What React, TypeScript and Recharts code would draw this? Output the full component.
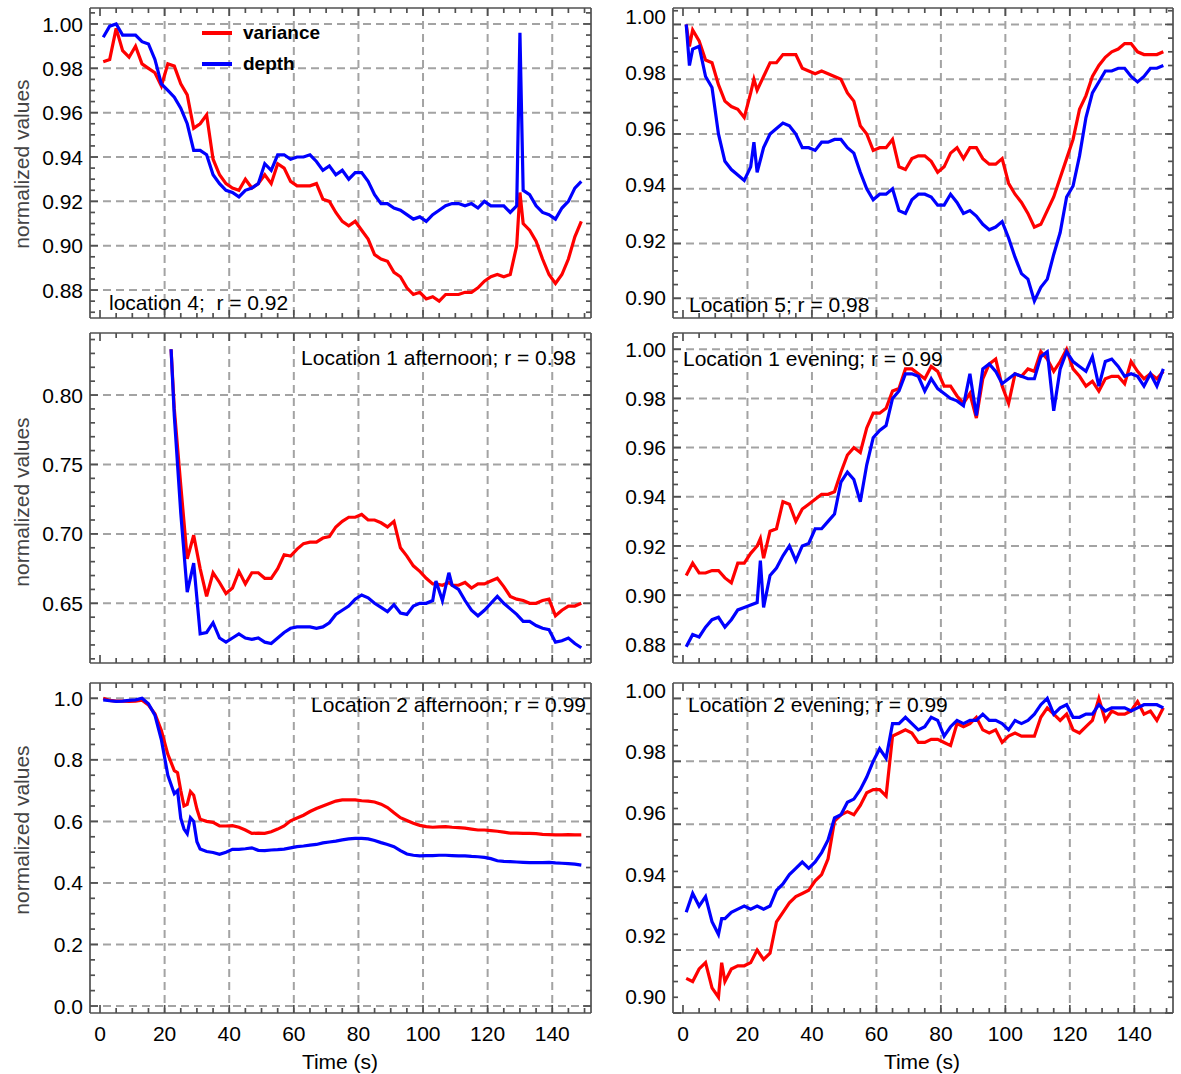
import React from 'react';
import { LineChart, Line, XAxis, YAxis, CartesianGrid, Legend } from 'recharts';

const FONT = '"Liberation Sans", Arial, Helvetica, sans-serif';
const RED = '#ff0000';
const BLUE = '#0000ff';
const FRAME = '#505050';
const GRID = '#a3a3a3';
const SERIES_ORDER = ['variance', 'depth'];

// shared time axis (seconds)
const X_DOMAIN: [number, number] = [-3.1, 152];
const X_LABELS = [0, 20, 40, 60, 80, 100, 120, 140];
const X_MINOR = [0, 5, 10, 15, 20, 25, 30, 35, 40, 45, 50, 55, 60, 65, 70, 75, 80, 85, 90, 95, 100, 105, 110, 115, 120, 125, 130, 135, 140, 145, 150];
const X_GRID = [20, 40, 60, 80, 100, 120, 140];

// ---- location 4 ----
const LOC4_T = [1, 3, 5, 7, 9, 11, 13, 15, 17, 19, 21, 23, 25, 27, 29, 31, 33, 35, 37, 39, 41, 43, 45, 47, 49, 51, 53, 55, 57, 59, 61, 63, 65, 67, 69, 71, 73, 75, 77, 79, 81, 83, 85, 87, 89, 91, 93, 95, 97, 99, 101, 103, 105, 107, 109, 111, 113, 115, 117, 119, 121, 123, 125, 127, 129, 130, 131, 133, 135, 137, 139, 141, 143, 145, 147, 149];
const LOC4_VAR = [0.983, 0.984, 0.998, 0.988, 0.985, 0.990, 0.982, 0.980, 0.978, 0.972,
  0.982, 0.981, 0.973, 0.968, 0.953, 0.955, 0.959, 0.939, 0.932, 0.928,
  0.926, 0.925, 0.930, 0.926, 0.928, 0.932, 0.928, 0.937, 0.935, 0.929,
  0.927, 0.927, 0.927, 0.928, 0.921, 0.920, 0.915, 0.911, 0.909, 0.911,
  0.907, 0.903, 0.896, 0.894, 0.893, 0.888, 0.886, 0.881, 0.878, 0.879,
  0.876, 0.877, 0.875, 0.878, 0.878, 0.878, 0.879, 0.879, 0.881, 0.884,
  0.886, 0.887, 0.886, 0.887, 0.900, 0.924, 0.910, 0.907, 0.902, 0.894,
  0.887, 0.883, 0.887, 0.894, 0.904, 0.911];
const LOC4_DEPTH = [0.994, 0.999, 1.000, 0.995, 0.995, 0.995, 0.992, 0.991, 0.984, 0.973,
  0.970, 0.967, 0.962, 0.955, 0.943, 0.943, 0.941, 0.932, 0.928, 0.925,
  0.924, 0.922, 0.925, 0.926, 0.928, 0.937, 0.934, 0.941, 0.941, 0.939,
  0.940, 0.940, 0.941, 0.938, 0.934, 0.936, 0.932, 0.934, 0.930, 0.933,
  0.933, 0.929, 0.923, 0.919, 0.919, 0.917, 0.916, 0.914, 0.912, 0.913,
  0.911, 0.914, 0.916, 0.918, 0.919, 0.919, 0.918, 0.919, 0.917, 0.920,
  0.918, 0.918, 0.918, 0.915, 0.918, 0.996, 0.925, 0.923, 0.918, 0.915,
  0.914, 0.912, 0.917, 0.920, 0.926, 0.929];

// ---- location 5 ----
const LOC5_T = [1, 2, 3, 5, 7, 9, 11, 13, 15, 17, 19, 21, 22, 23, 25, 27, 29, 31, 33, 35, 37, 39, 41, 43, 45, 47, 49, 51, 53, 55, 57, 59, 61, 63, 65, 67, 69, 71, 73, 75, 77, 79, 81, 83, 85, 87, 89, 91, 93, 95, 97, 99, 101, 103, 105, 107, 109, 111, 113, 115, 117, 119, 121, 123, 125, 127, 129, 131, 133, 135, 137, 139, 141, 143, 145, 147, 149];
const LOC5_VAR = [1.000, 0.992, 0.998, 0.994, 0.987, 0.986, 0.978, 0.972, 0.970, 0.969,
  0.966, 0.975, 0.980, 0.976, 0.981, 0.986, 0.986, 0.989, 0.989, 0.989,
  0.984, 0.983, 0.982, 0.983, 0.982, 0.981, 0.980, 0.975, 0.972, 0.963,
  0.960, 0.954, 0.955, 0.955, 0.958, 0.948, 0.947, 0.951, 0.952, 0.952,
  0.950, 0.946, 0.948, 0.953, 0.955, 0.951, 0.955, 0.955, 0.951, 0.949,
  0.949, 0.951, 0.942, 0.938, 0.935, 0.931, 0.926, 0.927, 0.932, 0.937,
  0.944, 0.951, 0.958, 0.969, 0.974, 0.981, 0.985, 0.988, 0.990, 0.991,
  0.993, 0.993, 0.990, 0.989, 0.989, 0.989, 0.990];
const LOC5_DEPTH = [1.000, 0.985, 0.991, 0.992, 0.981, 0.977, 0.960, 0.950, 0.947, 0.945,
  0.943, 0.948, 0.957, 0.946, 0.955, 0.960, 0.962, 0.964, 0.963, 0.960,
  0.955, 0.955, 0.954, 0.957, 0.957, 0.958, 0.958, 0.955, 0.953, 0.946,
  0.940, 0.936, 0.938, 0.938, 0.940, 0.932, 0.931, 0.936, 0.938, 0.938,
  0.937, 0.934, 0.934, 0.938, 0.935, 0.931, 0.932, 0.930, 0.927, 0.925,
  0.926, 0.928, 0.922, 0.915, 0.909, 0.907, 0.899, 0.904, 0.907, 0.916,
  0.924, 0.937, 0.941, 0.952, 0.966, 0.975, 0.979, 0.983, 0.983, 0.984,
  0.984, 0.981, 0.979, 0.981, 0.984, 0.984, 0.985];

// ---- location 1, afternoon ----
const LOC1A_T = [22, 23, 25, 27, 29, 31, 33, 35, 37, 39, 41, 43, 45, 47, 49, 51, 53, 55, 57, 59, 61, 63, 65, 67, 69, 71, 73, 75, 77, 79, 81, 83, 85, 87, 89, 91, 93, 95, 97, 99, 101, 103, 104, 106, 108, 109, 111, 113, 115, 117, 119, 121, 123, 125, 127, 129, 131, 133, 135, 137, 139, 141, 143, 145, 147, 149];
const LOC1A_VAR = [0.833, 0.790, 0.735, 0.682, 0.699, 0.675, 0.655, 0.672, 0.665, 0.657,
  0.661, 0.673, 0.664, 0.672, 0.672, 0.668, 0.668, 0.675, 0.685, 0.684,
  0.689, 0.693, 0.694, 0.694, 0.697, 0.698, 0.705, 0.709, 0.712, 0.712,
  0.714, 0.710, 0.710, 0.708, 0.705, 0.709, 0.690, 0.684, 0.677, 0.673,
  0.668, 0.664, 0.664, 0.663, 0.665, 0.663, 0.663, 0.665, 0.661, 0.664,
  0.664, 0.666, 0.668, 0.662, 0.655, 0.653, 0.652, 0.650, 0.650, 0.652,
  0.653, 0.641, 0.645, 0.648, 0.648, 0.650];
const LOC1A_DEPTH = [0.833, 0.785, 0.715, 0.658, 0.679, 0.628, 0.629, 0.636, 0.625, 0.622,
  0.625, 0.628, 0.625, 0.624, 0.625, 0.622, 0.621, 0.625, 0.629, 0.632,
  0.633, 0.633, 0.633, 0.632, 0.633, 0.636, 0.642, 0.645, 0.648, 0.653,
  0.656, 0.654, 0.650, 0.647, 0.644, 0.649, 0.643, 0.642, 0.648, 0.650,
  0.650, 0.652, 0.666, 0.652, 0.672, 0.663, 0.660, 0.652, 0.645, 0.641,
  0.645, 0.650, 0.655, 0.650, 0.646, 0.642, 0.637, 0.637, 0.634, 0.632,
  0.631, 0.622, 0.623, 0.625, 0.621, 0.618];

// ---- location 1, evening ----
const LOC1E_T = [1, 3, 5, 7, 9, 11, 13, 15, 17, 19, 21, 23, 24, 25, 27, 29, 31, 33, 35, 37, 39, 41, 43, 45, 47, 49, 51, 53, 55, 57, 59, 61, 63, 65, 67, 69, 71, 73, 75, 77, 79, 81, 83, 85, 87, 89, 91, 93, 95, 97, 99, 101, 103, 105, 107, 109, 111, 113, 115, 117, 119, 121, 123, 125, 127, 129, 131, 133, 135, 137, 139, 141, 143, 145, 147, 149];
const LOC1E_VAR = [0.908, 0.913, 0.909, 0.909, 0.910, 0.910, 0.907, 0.905, 0.913, 0.913,
  0.917, 0.920, 0.923, 0.915, 0.926, 0.927, 0.938, 0.937, 0.930, 0.935,
  0.937, 0.939, 0.941, 0.941, 0.942, 0.950, 0.957, 0.960, 0.958, 0.968,
  0.974, 0.974, 0.976, 0.983, 0.984, 0.992, 0.992, 0.990, 0.988, 0.993,
  0.991, 0.985, 0.985, 0.981, 0.978, 0.982, 0.972, 0.988, 0.994, 0.996,
  0.985, 0.978, 0.990, 0.989, 0.992, 0.991, 0.999, 0.996, 0.991, 0.995,
  1.000, 0.992, 0.989, 0.985, 0.987, 0.983, 0.988, 0.989, 0.989, 0.986,
  0.995, 0.991, 0.988, 0.990, 0.988, 0.991];
const LOC1E_DEPTH = [0.879, 0.884, 0.883, 0.887, 0.890, 0.891, 0.887, 0.890, 0.894, 0.895,
  0.896, 0.897, 0.914, 0.895, 0.908, 0.911, 0.916, 0.920, 0.914, 0.920,
  0.921, 0.927, 0.927, 0.930, 0.933, 0.946, 0.950, 0.947, 0.938, 0.953,
  0.964, 0.967, 0.969, 0.980, 0.983, 0.990, 0.990, 0.989, 0.983, 0.988,
  0.984, 0.982, 0.980, 0.979, 0.977, 0.990, 0.973, 0.992, 0.994, 0.991,
  0.986, 0.988, 0.990, 0.989, 0.988, 0.988, 0.997, 0.999, 0.975, 0.992,
  0.999, 0.995, 0.993, 0.991, 0.997, 0.985, 0.995, 0.996, 0.993, 0.989,
  0.990, 0.989, 0.985, 0.990, 0.985, 0.992];

// ---- location 2, afternoon ----
const LOC2A_T = [1, 3, 5, 7, 9, 11, 13, 15, 17, 19, 21, 23, 24, 25, 26, 27, 28, 29, 30, 31, 33, 35, 37, 39, 41, 43, 45, 47, 49, 51, 53, 55, 57, 59, 61, 63, 65, 67, 69, 71, 73, 75, 77, 79, 81, 83, 85, 87, 89, 91, 93, 95, 97, 99, 101, 103, 105, 107, 109, 111, 113, 115, 117, 119, 121, 123, 125, 127, 129, 131, 133, 135, 137, 139, 141, 143, 145, 147, 149];
const LOC2A_VAR = [1.000, 0.993, 0.991, 0.991, 0.990, 0.991, 0.994, 0.978, 0.950, 0.895,
  0.818, 0.765, 0.758, 0.700, 0.650, 0.655, 0.697, 0.685, 0.640, 0.607,
  0.600, 0.597, 0.585, 0.585, 0.586, 0.581, 0.572, 0.561, 0.562, 0.561,
  0.566, 0.575, 0.585, 0.602, 0.611, 0.620, 0.632, 0.642, 0.650, 0.658,
  0.666, 0.670, 0.670, 0.670, 0.667, 0.666, 0.663, 0.656, 0.645, 0.628,
  0.612, 0.603, 0.594, 0.587, 0.583, 0.581, 0.582, 0.583, 0.581, 0.580,
  0.578, 0.575, 0.572, 0.572, 0.570, 0.568, 0.565, 0.562, 0.562, 0.561,
  0.561, 0.560, 0.558, 0.557, 0.556, 0.556, 0.557, 0.556, 0.556];
const LOC2A_DEPTH = [0.995, 0.992, 0.990, 0.991, 0.993, 0.995, 1.000, 0.982, 0.945, 0.865,
  0.750, 0.690, 0.700, 0.610, 0.575, 0.560, 0.612, 0.600, 0.534, 0.510,
  0.502, 0.499, 0.493, 0.500, 0.509, 0.509, 0.511, 0.514, 0.506, 0.505,
  0.507, 0.508, 0.510, 0.514, 0.518, 0.520, 0.523, 0.525, 0.530, 0.533,
  0.536, 0.540, 0.543, 0.545, 0.545, 0.543, 0.538, 0.531, 0.525, 0.518,
  0.505, 0.494, 0.490, 0.488, 0.489, 0.489, 0.490, 0.490, 0.489, 0.488,
  0.488, 0.486, 0.485, 0.483, 0.479, 0.472, 0.470, 0.469, 0.468, 0.467,
  0.466, 0.466, 0.466, 0.467, 0.465, 0.464, 0.463, 0.461, 0.458];

// ---- location 2, evening ----
const LOC2E_T = [1, 3, 5, 7, 9, 11, 12, 13, 15, 17, 19, 21, 23, 25, 27, 29, 31, 33, 35, 37, 39, 41, 43, 45, 47, 49, 51, 53, 55, 57, 59, 61, 63, 65, 67, 69, 71, 73, 75, 77, 79, 81, 83, 85, 87, 89, 91, 93, 95, 97, 99, 101, 103, 105, 107, 109, 111, 113, 115, 117, 119, 121, 123, 125, 127, 129, 131, 133, 135, 137, 139, 141, 143, 145, 147, 149];
const LOC2E_VAR = [0.911, 0.910, 0.914, 0.916, 0.908, 0.905, 0.916, 0.910, 0.914, 0.915,
  0.915, 0.916, 0.920, 0.917, 0.919, 0.929, 0.932, 0.935, 0.937, 0.938,
  0.939, 0.942, 0.944, 0.949, 0.961, 0.963, 0.964, 0.963, 0.966, 0.970,
  0.971, 0.971, 0.969, 0.988, 0.989, 0.990, 0.989, 0.986, 0.986, 0.987,
  0.987, 0.986, 0.985, 0.992, 0.991, 0.992, 0.994, 0.990, 0.989, 0.990,
  0.986, 0.988, 0.989, 0.988, 0.988, 0.988, 0.994, 0.997, 0.995, 0.993,
  0.995, 0.990, 0.989, 0.991, 0.993, 1.000, 0.993, 0.996, 0.995, 0.995,
  0.996, 0.999, 0.995, 0.996, 0.993, 0.997];
const LOC2E_DEPTH = [0.932, 0.938, 0.934, 0.937, 0.929, 0.925, 0.930, 0.930, 0.932, 0.933,
  0.934, 0.933, 0.934, 0.933, 0.934, 0.939, 0.941, 0.944, 0.946, 0.948,
  0.946, 0.948, 0.951, 0.955, 0.962, 0.963, 0.967, 0.968, 0.971, 0.975,
  0.980, 0.984, 0.981, 0.992, 0.992, 0.994, 0.992, 0.990, 0.991, 0.994,
  0.993, 0.988, 0.991, 0.993, 0.992, 0.993, 0.993, 0.995, 0.993, 0.993,
  0.992, 0.990, 0.993, 0.992, 0.993, 0.995, 0.998, 1.000, 0.995, 0.997,
  0.998, 0.994, 0.994, 0.995, 0.995, 0.998, 0.996, 0.997, 0.997, 0.997,
  0.996, 0.997, 0.998, 0.998, 0.998, 0.997];

// y tick labels per panel
const TICKS_LOC4 = [0.88, 0.90, 0.92, 0.94, 0.96, 0.98, 1.00];
const TICKS_LOC5 = [0.90, 0.92, 0.94, 0.96, 0.98, 1.00];
const TICKS_LOC1A = [0.65, 0.70, 0.75, 0.80];
const TICKS_LOC1E = [0.88, 0.90, 0.92, 0.94, 0.96, 0.98, 1.00];
const TICKS_LOC2A = [0.0, 0.2, 0.4, 0.6, 0.8, 1.0];
const TICKS_LOC2E = [0.90, 0.92, 0.94, 0.96, 0.98, 1.00];

// minor tick positions between two values
const minorTicks = (from: number, to: number, step: number) => {
  const out: number[] = [];
  const n = Math.round((to - from) / step);
  for (let i = 0; i <= n; i++) out.push(Math.round((from + i * step) * 10000) / 10000);
  return out;
};

const isMajor = (v: number, list: number[]) => list.some((m) => Math.abs(m - v) < 1e-6);

type Margin = { top: number; right: number; bottom: number; left: number };

interface PanelProps {
  left: number;
  top: number;
  width: number;
  height: number;
  margin: Margin;
  times: number[];
  variance: number[];
  depth: number[];
  yDomain: [number, number];
  yTicks: number[];
  yMinor: number[];
  yGrid: number[];
  digits: number;
  showX?: boolean;
  labelShift?: (v: number) => number;
  legend?: boolean;
}

const LegendBox = ({ payload }: { payload?: Array<{ value: string; color: string }> }) => {
  const items = (payload || []).slice().sort(
    (a, b) => SERIES_ORDER.indexOf(a.value) - SERIES_ORDER.indexOf(b.value),
  );
  return (
    <div style={{ fontFamily: FONT }}>
      {items.map((p) => (
        <div key={p.value} style={{ display: 'flex', alignItems: 'center', height: 31 }}>
          <span style={{ width: 30, height: 4, background: p.color, marginRight: 11, display: 'inline-block' }} />
          <span style={{ fontWeight: 700, fontSize: 19, color: '#000' }}>{p.value}</span>
        </div>
      ))}
    </div>
  );
};

const Panel: React.FC<PanelProps> = ({
  left, top, width, height, margin, times, variance, depth,
  yDomain, yTicks, yMinor, yGrid, digits, showX = false, labelShift, legend = false,
}) => {
  const rows = times.map((t, i) => ({ t, variance: variance[i], depth: depth[i] }));

  const bottomTick = (p: any) => {
    const v = p.payload.value;
    const major = isMajor(v, X_LABELS);
    return (
      <g>
        <line x1={p.x} x2={p.x} y1={p.y} y2={p.y - (major ? 8 : 5)} stroke={FRAME} strokeWidth={1.7} />
        {major && showX && (
          <text x={p.x} y={p.y + 20} dy="0.36em" textAnchor="middle" fontSize={21} fontFamily={FONT} fill="#000">
            {v}
          </text>
        )}
      </g>
    );
  };
  const topTick = (p: any) => {
    const major = isMajor(p.payload.value, X_LABELS);
    return <line x1={p.x} x2={p.x} y1={p.y} y2={p.y + (major ? 8 : 5)} stroke={FRAME} strokeWidth={1.7} />;
  };
  const leftTick = (p: any) => {
    const v = p.payload.value;
    const major = isMajor(v, yTicks);
    const shift = labelShift ? labelShift(v) : 0;
    return (
      <g>
        <line x1={p.x} x2={p.x + (major ? 8 : 5)} y1={p.y} y2={p.y} stroke={FRAME} strokeWidth={1.7} />
        {major && (
          <text x={p.x - 7} y={p.y + shift} dy="0.36em" textAnchor="end" fontSize={21} fontFamily={FONT} fill="#000">
            {v.toFixed(digits)}
          </text>
        )}
      </g>
    );
  };
  const rightTick = (p: any) => {
    const major = isMajor(p.payload.value, yTicks);
    return <line x1={p.x} x2={p.x - (major ? 8 : 5)} y1={p.y} y2={p.y} stroke={FRAME} strokeWidth={1.7} />;
  };

  const frame = { stroke: FRAME, strokeWidth: 1.7 };

  return (
    <div style={{ position: 'absolute', left, top, width, height }}>
      <LineChart width={width} height={height} data={rows} margin={margin}>
        <CartesianGrid
          xAxisId="b" yAxisId="l"
          horizontalValues={yGrid} verticalValues={X_GRID}
          stroke={GRID} strokeWidth={2} strokeDasharray="8 5"
        />
        <XAxis xAxisId="b" dataKey="t" type="number" orientation="bottom" mirror
          domain={X_DOMAIN} allowDataOverflow ticks={X_MINOR} interval={0}
          tickSize={0} tickMargin={0} tickLine={false} axisLine={frame} tick={bottomTick} />
        <XAxis xAxisId="t" dataKey="t" type="number" orientation="top" mirror
          domain={X_DOMAIN} allowDataOverflow ticks={X_MINOR} interval={0}
          tickSize={0} tickMargin={0} tickLine={false} axisLine={frame} tick={topTick} />
        <YAxis yAxisId="l" type="number" orientation="left" mirror
          domain={yDomain} allowDataOverflow ticks={yMinor} interval={0}
          tickSize={0} tickMargin={0} tickLine={false} axisLine={frame} tick={leftTick} />
        <YAxis yAxisId="r" type="number" orientation="right" mirror
          domain={yDomain} allowDataOverflow ticks={yMinor} interval={0}
          tickSize={0} tickMargin={0} tickLine={false} axisLine={frame} tick={rightTick} />
        <Line xAxisId="b" yAxisId="l" type="linear" dataKey="variance" name="variance"
          stroke={RED} strokeWidth={3.2} dot={false} activeDot={false} isAnimationActive={false} />
        <Line xAxisId="b" yAxisId="l" type="linear" dataKey="depth" name="depth"
          stroke={BLUE} strokeWidth={3.2} dot={false} activeDot={false} isAnimationActive={false} />
        {legend && (
          <Legend layout="vertical" align="center" verticalAlign="middle"
            wrapperStyle={{ left: 202, top: 17, width: 'auto' }} content={<LegendBox />} />
        )}
      </LineChart>
    </div>
  );
};

const textStyle: React.CSSProperties = {
  position: 'absolute', fontFamily: FONT, fontSize: 21, color: '#000', whiteSpace: 'pre', lineHeight: 1,
};

const Note = ({ x, y, align = 'left', children }: { x: number; y: number; align?: 'left' | 'right'; children: string }) => (
  <div style={{
    ...textStyle, left: x, top: y,
    transform: align === 'right' ? 'translate(-100%, -50%)' : 'translate(0, -50%)',
  }}>{children}</div>
);

const YTitle = ({ y }: { y: number }) => (
  <div style={{
    ...textStyle, left: 21, top: y, color: '#444',
    transform: 'translate(-50%, -50%) rotate(-90deg)',
  }}>normalized values</div>
);

const LEFT_COL = { left: 0, width: 600 };
const RIGHT_COL = { left: 600, width: 581 };
const ROW1 = { top: 0, height: 326 };
const ROW2 = { top: 326, height: 344 };
const ROW3 = { top: 670, height: 404 };

export default function App() {
  return (
    <div style={{ position: 'absolute', left: 0, top: 0, width: 1181, height: 1074, background: '#fff', overflow: 'hidden' }}>
      <Panel {...LEFT_COL} {...ROW1} margin={{ top: 8, right: 9, bottom: 8, left: 90 }}
        times={LOC4_T} variance={LOC4_VAR} depth={LOC4_DEPTH}
        yDomain={[0.8674, 1.0072]} yTicks={TICKS_LOC4} yMinor={minorTicks(0.87, 1.005, 0.005)} yGrid={TICKS_LOC4}
        digits={2} legend />
      <Panel {...RIGHT_COL} {...ROW1} margin={{ top: 8, right: 8, bottom: 8, left: 73 }}
        times={LOC5_T} variance={LOC5_VAR} depth={LOC5_DEPTH}
        yDomain={[0.8928, 1.006]} yTicks={TICKS_LOC5} yMinor={minorTicks(0.895, 1.005, 0.005)} yGrid={TICKS_LOC5}
        digits={2} labelShift={(v) => -1.3 - (v - 0.9) * 64} />
      <Panel {...LEFT_COL} {...ROW2} margin={{ top: 7, right: 9, bottom: 7, left: 90 }}
        times={LOC1A_T} variance={LOC1A_VAR} depth={LOC1A_DEPTH}
        yDomain={[0.607, 0.8447]} yTicks={TICKS_LOC1A} yMinor={minorTicks(0.61, 0.84, 0.01)} yGrid={TICKS_LOC1A}
        digits={2} />
      <Panel {...RIGHT_COL} {...ROW2} margin={{ top: 7, right: 8, bottom: 7, left: 73 }}
        times={LOC1E_T} variance={LOC1E_VAR} depth={LOC1E_DEPTH}
        yDomain={[0.8724, 1.0066]} yTicks={TICKS_LOC1E} yMinor={minorTicks(0.875, 1.005, 0.005)} yGrid={TICKS_LOC1E}
        digits={2} />
      <Panel {...LEFT_COL} {...ROW3} margin={{ top: 13, right: 9, bottom: 61, left: 90 }}
        times={LOC2A_T} variance={LOC2A_VAR} depth={LOC2A_DEPTH}
        yDomain={[-0.0227, 1.0497]} yTicks={TICKS_LOC2A} yMinor={minorTicks(0, 1.0, 0.05)} yGrid={TICKS_LOC2A}
        digits={1} showX />
      <Panel {...RIGHT_COL} {...ROW3} margin={{ top: 13, right: 8, bottom: 61, left: 73 }}
        times={LOC2E_T} variance={LOC2E_VAR} depth={LOC2E_DEPTH}
        yDomain={[0.9, 1.0049]} yTicks={TICKS_LOC2E} yMinor={minorTicks(0.9, 1.0, 0.005)}
        yGrid={[0.92, 0.94, 0.96, 0.98, 1.0]}
        digits={2} showX labelShift={(v) => -8.3 - (1.0 - v) * 80} />

      <YTitle y={164} />
      <YTitle y={502} />
      <YTitle y={830} />

      <div style={{ ...textStyle, left: 340, top: 1061, transform: 'translate(-50%, -50%)' }}>Time (s)</div>
      <div style={{ ...textStyle, left: 922, top: 1061, transform: 'translate(-50%, -50%)' }}>Time (s)</div>

      <Note x={109} y={302}>{'location 4;  r = 0.92'}</Note>
      <Note x={689} y={304}>{'Location 5; r = 0.98'}</Note>
      <Note x={576} y={357} align="right">{'Location 1 afternoon; r = 0.98'}</Note>
      <Note x={683} y={358}>{'Location 1 evening; r = 0.99'}</Note>
      <Note x={586} y={704} align="right">{'Location 2 afternoon; r = 0.99'}</Note>
      <Note x={688} y={704}>{'Location 2 evening; r = 0.99'}</Note>
    </div>
  );
}
